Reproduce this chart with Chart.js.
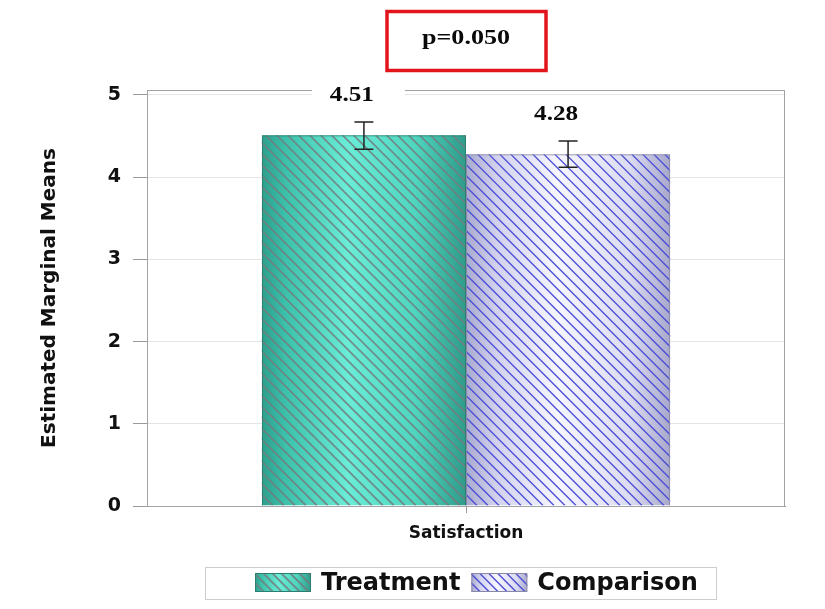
<!DOCTYPE html>
<html>
<head>
<meta charset="utf-8">
<script src="https://cdn.jsdelivr.net/npm/chart.js"></script>
<style>
  html,body{margin:0;padding:0;background:#fff;}
  #wrap{width:825px;height:609px;}
</style>
</head>
<body>
<div id="wrap"><canvas id="c" width="825" height="609"></canvas></div>
<script>
/* ===== data ===== */
const categories = ['Satisfaction'];
const seriesNames = ['Treatment', 'Comparison'];
const means = [4.51, 4.28];
const ciLow = [4.34, 4.12];
const ciHigh = [4.67, 4.44];
const yTicks = [0, 1, 2, 3, 4, 5];
const pText = 'p=0.050';

/* ===== styles ===== */
const looks = [
  {stops:[[0,'#2c9f8d'],[0.12,'#3cc2ab'],[0.42,'#6aecd6'],[0.75,'#4fd6bf'],[1,'#2e9c8a']], stripe:'rgba(115,125,128,0.85)', sw:1.8, edge:'#2a7f72'},
  {stops:[[0,'#a9a9cf'],[0.15,'#d2d2ee'],[0.45,'#f6f6ff'],[0.8,'#dcdcf2'],[1,'#a8a8cc']], stripe:'#4f4fd6', sw:1.4, edge:'#8a8aa8'}
];
const SERIF = '"Liberation Serif","Times New Roman",serif';
const SANS = '"DejaVu Sans",Verdana,sans-serif';

function paintBox(ctx, x0, y0, x1, y1, lk, step){
  ctx.save();
  ctx.beginPath(); ctx.rect(x0, y0, x1-x0, y1-y0); ctx.clip();
  const g = ctx.createLinearGradient(x0, 0, x1, 0);
  lk.stops.forEach(s=>g.addColorStop(s[0], s[1]));
  ctx.fillStyle = g; ctx.fillRect(x0, y0, x1-x0, y1-y0);
  ctx.strokeStyle = lk.stripe; ctx.lineWidth = lk.sw;
  const h = y1 - y0;
  ctx.beginPath();
  for(let s = x0 - h - step; s < x1 + step; s += step){ ctx.moveTo(s, y0); ctx.lineTo(s + h, y1); }
  ctx.stroke();
  ctx.restore();
}

function stretchText(ctx, txt, x, y, sx){
  ctx.save(); ctx.translate(x, y); ctx.scale(sx, 1); ctx.fillText(txt, 0, 0); ctx.restore();
}

/* ===== plugin: fills, frame, error bars, labels, p box, legend ===== */
const decor = {
  id:'decor',
  beforeDatasetsDraw(chart){
    const {ctx, chartArea:a} = chart;
    ctx.save();
    ctx.strokeStyle = '#a3a3a3'; ctx.lineWidth = 1;
    ctx.strokeRect(Math.round(a.left)+0.5, Math.round(a.top)+0.5, Math.round(a.right-a.left)-1, Math.round(a.bottom-a.top));
    ctx.restore();
    chart.data.datasets.forEach((ds, i)=>{
      chart.getDatasetMeta(i).data.forEach(bar=>{
        const p = bar.getProps(['x','y','base','width'], true);
        paintBox(ctx, p.x - p.width/2, p.y, p.x + p.width/2, p.base, looks[i], 11);
      });
    });
  },
  afterDatasetsDraw(chart){
    const {ctx} = chart, ys = chart.scales.y;
    chart.data.datasets.forEach((ds, i)=>{
      chart.getDatasetMeta(i).data.forEach(bar=>{
        const cx = bar.x;
        const hi = ys.getPixelForValue(ciHigh[i]), lo = ys.getPixelForValue(ciLow[i]);
        ctx.save();
        ctx.strokeStyle = '#222'; ctx.lineWidth = 1.5;
        ctx.beginPath();
        ctx.moveTo(cx, hi); ctx.lineTo(cx, lo);
        ctx.moveTo(cx-9.5, hi); ctx.lineTo(cx+9.5, hi);
        ctx.moveTo(cx-9.5, lo); ctx.lineTo(cx+9.5, lo);
        ctx.stroke();
        // value label with white backing
        const lx = cx - 12, base = hi - 21;
        ctx.fillStyle = '#fff';
        ctx.fillRect(lx - 40, base - 20, 93, 26);
        ctx.fillStyle = '#0a0a0a';
        ctx.font = 'bold 21px ' + SERIF;
        ctx.textAlign = 'center'; ctx.textBaseline = 'alphabetic';
        stretchText(ctx, means[i].toFixed(2), lx, base, 1.2);
        ctx.restore();
      });
    });
  },
  afterDraw(chart){
    const {ctx, chartArea:a} = chart;
    const mid = (a.left + a.right)/2;
    ctx.save();
    // p-value box
    ctx.strokeStyle = '#e2141c'; ctx.lineWidth = 3.5;
    ctx.strokeRect(mid - 79, 11.5, 159, 59);
    ctx.fillStyle = '#0a0a0a';
    ctx.font = 'bold 21px ' + SERIF;
    ctx.textAlign = 'center'; ctx.textBaseline = 'alphabetic';
    stretchText(ctx, pText, mid, 44, 1.24);
    // legend
    ctx.strokeStyle = '#cdcdcd'; ctx.lineWidth = 1;
    ctx.strokeRect(205.5, 567.5, 511, 32);
    ctx.font = 'bold 24px ' + SANS;
    ctx.textAlign = 'left'; ctx.textBaseline = 'middle';
    let x = 255;
    chart.data.datasets.forEach((ds, i)=>{
      paintBox(ctx, x, 573, x + 56, 592, looks[i], 9);
      ctx.strokeStyle = looks[i].edge; ctx.lineWidth = 1;
      ctx.strokeRect(x + 0.5, 573.5, 55, 18);
      ctx.fillStyle = '#111';
      ctx.fillText(ds.label, x + 66, 584);
      x += 66 + ctx.measureText(ds.label).width + 11;
    });
    ctx.restore();
  }
};

new Chart(document.getElementById('c'), {
  type:'bar',
  data:{
    labels: categories,
    datasets: seriesNames.map((n, i)=>({
      label: n,
      data: [means[i]],
      backgroundColor: 'rgba(0,0,0,0)',
      borderColor: looks[i].edge,
      borderWidth: 1,
      categoryPercentage: 0.64,
      barPercentage: 1.0
    }))
  },
  options:{
    responsive:false,
    animation:false,
    events:[],
    layout:{padding:{left:30, right:40, top:90, bottom:0}},
    plugins:{legend:{display:false}, tooltip:{enabled:false}},
    scales:{
      x:{
        grid:{offset:false, drawOnChartArea:false, tickLength:7, tickColor:'#9a9a9a'},
        border:{color:'#9a9a9a'},
        ticks:{font:{family:SANS, weight:'bold', size:17}, color:'#111', padding:10},
        afterFit: s=>{ s.height = 103; }
      },
      y:{
        min:0, max:5.06,
        afterBuildTicks: s=>{ s.ticks = yTicks.map(v=>({value:v})); },
        ticks:{font:{family:SANS, weight:'bold', size:19}, color:'#111', padding:12},
        grid:{color:'#e4e4e4', tickColor:'#9a9a9a', tickLength:14},
        border:{color:'#9a9a9a'},
        title:{display:true, text:'Estimated Marginal Means', font:{family:SANS, weight:'bold', size:20}, color:'#111', padding:{top:8, bottom:0}},
        afterFit: s=>{ s.width = 117; }
      }
    }
  },
  plugins:[decor]
});
</script>
</body>
</html>
